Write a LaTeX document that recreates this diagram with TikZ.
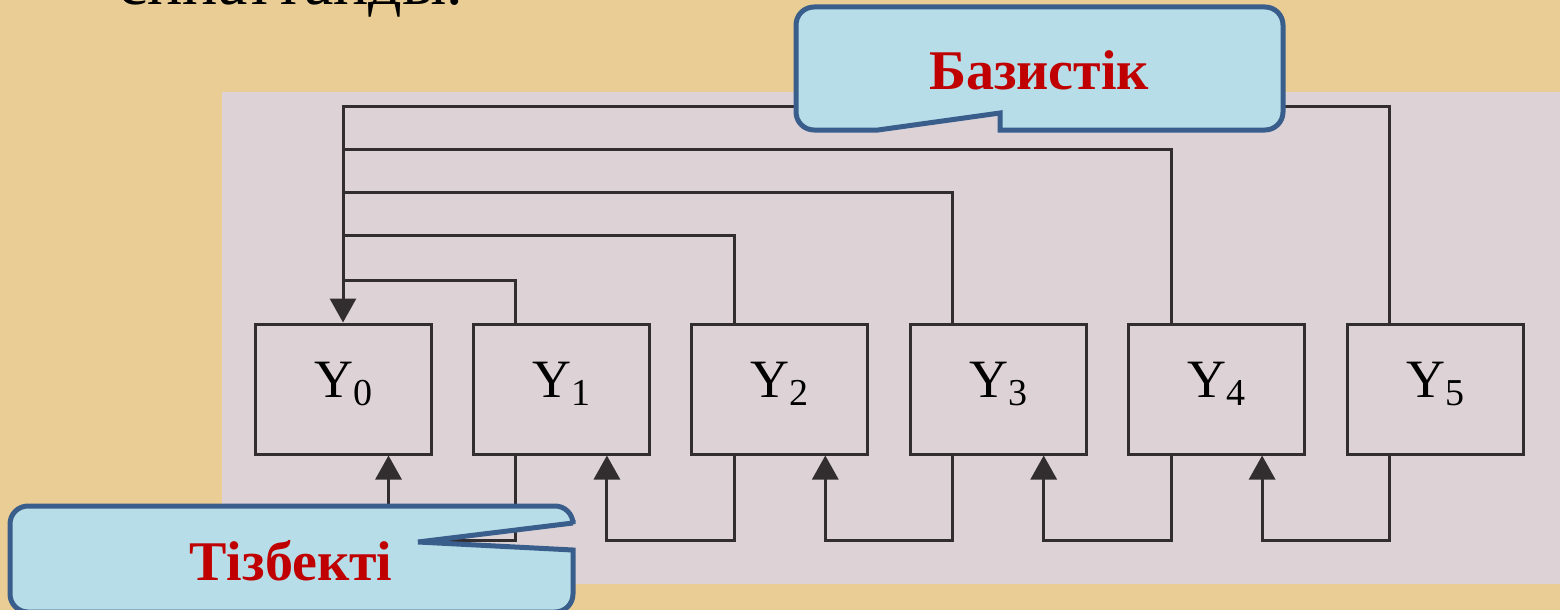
\documentclass[tikz,border=0pt]{standalone}
\usepackage{fontspec}
\setmainfont{Liberation Serif}
\usetikzlibrary{arrows.meta}
\definecolor{parch}{RGB}{233,205,149}
\definecolor{scan}{RGB}{221,211,215}
\definecolor{ink}{RGB}{50,46,48}
\definecolor{calfill}{RGB}{182,221,232}
\definecolor{calline}{RGB}{58,94,140}
\definecolor{calred}{RGB}{192,0,0}
\newcommand\ysub[1]{Y\raisebox{-8pt}{\fontsize{38}{38}\selectfont#1}}
\begin{document}
\begin{tikzpicture}[x=1pt,y=-1pt,
    blk/.style={draw=ink,line width=3pt,minimum width=176pt,minimum height=130pt,inner sep=0pt},
    wire/.style={draw=ink,line width=3pt},
    arr/.style={wire,-{Triangle[length=24pt,width=26pt]}},
    callout/.style={fill=calfill,draw=calline,line width=5pt},
    ctext/.style={font=\fontsize{56}{60}\selectfont\bfseries,text=calred,inner sep=0pt}]
    \useasboundingbox (0,0) rectangle (1560,610);
    \fill[parch] (0,0) rectangle (1560,610);
    \fill[scan] (222,92) rectangle (1560,584);
    \node[anchor=base west,inner sep=0pt,font=\fontsize{66}{70}\selectfont] (head) at (118,5) {сипаттайды.};
    \foreach \i in {0,...,5}{
    \node[blk] (y\i) at (343+218.4*\i,389) {};
    \node[anchor=base,inner sep=0pt,font=\fontsize{54}{58}\selectfont] (l\i) at ([yshift=-8pt]y\i.center) {\ysub{\i}};}
    % links back to Y0 from above
    \foreach \i/\h in {1/42,2/87,3/130,4/173}
    \draw[wire] ([xshift=44pt]y\i.north west) |- ([yshift=\h pt]y0.north);
    \draw[arr] ([xshift=44pt]y5.north west) |- ([yshift=216pt]y0.north) -- (y0.north);
    % chain below
    \foreach \i/\j in {0/1,1/2,2/3,3/4,4/5}
    \draw[arr] ([xshift=44pt]y\j.south west) -- ++(0,85) -| ([xshift=-44pt]y\i.south east);
    % callouts
    \filldraw[callout] (1000,130) [rounded corners=18pt] -- (1283,130) -- (1283,7) -- (796,7) -- (796,130) [sharp corners] -- (878,130) -- (1000,113) -- cycle;
    \node[ctext,anchor=base] (basis) at (1039,89) {Базистік};
    \filldraw[callout] (573,550) [rounded corners=18pt] -- (573,612) -- (10,612) -- (10,506) -- (573,506) [sharp corners] -- (573,523) -- (418,542) -- cycle;
    \node[ctext,anchor=base] (chain) at (291,580) {Тізбекті};
\end{tikzpicture}
\end{document}
